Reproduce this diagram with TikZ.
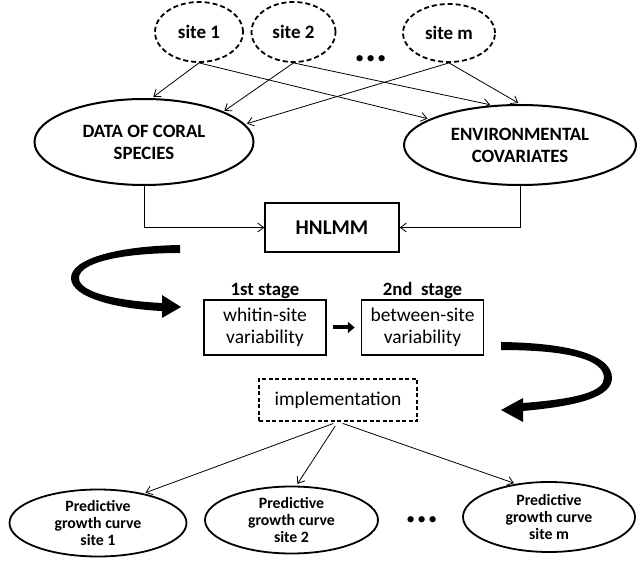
\documentclass[tikz,border=0pt]{standalone}
\usepackage{fontspec}
\setmainfont{Carlito}
\usetikzlibrary{arrows.meta,shapes.geometric}
\begin{document}
\begin{tikzpicture}[x=1pt,y=-1pt,
  sitenode/.style={ellipse,draw,line width=1.8pt,dash pattern=on 5pt off 3pt,inner sep=0pt,
     font=\fontsize{19}{22}\selectfont\bfseries},
  bigell/.style={ellipse,draw,line width=2pt,inner sep=0pt,align=center,
     font=\fontsize{18.8}{22}\selectfont\bfseries},
  predell/.style={ellipse,draw,line width=1.8pt,inner sep=0pt,align=center,
     minimum width=174pt,minimum height=67pt,
     font=\fontsize{15.8}{17}\selectfont\bfseries},
  boxnode/.style={rectangle,draw,line width=1.5pt,inner sep=0pt,align=center},
  stagebox/.style={boxnode,minimum width=122pt,minimum height=55pt,
     font=\fontsize{19.5}{21.5}\selectfont},
  stagelabel/.style={anchor=base,inner sep=0pt,font=\fontsize{18.8}{22}\selectfont\bfseries},
  conn/.style={line width=0.8pt,-{Straight Barb[length=6pt,width=9pt]}},
  dotsnode/.style={anchor=base,inner sep=0pt,font=\fontsize{42}{42}\selectfont\bfseries},
  bigarrow/.style={fill=black,draw=none}
]
\useasboundingbox (0,0) rectangle (638,564);

% sites
\node[sitenode,minimum width=88pt,minimum height=60pt] (s1) at (199,32) {site 1};
\node[sitenode,minimum width=84pt,minimum height=60pt] (s2) at (293.5,32) {site 2};
\node[sitenode,minimum width=92pt,minimum height=58pt] (sm) at (449,33) {site m};
\node[dotsnode] (topdots) at (371,62) {...};

% data ellipses
\node[bigell,minimum width=219pt,minimum height=86pt] (data) at (144,142) {DATA OF CORAL\\SPECIES};
\node[bigell,minimum width=232pt,minimum height=80pt] (env) at (520,145) {ENVIRONMENTAL\\COVARIATES};

\draw[conn,shorten >=2pt] (s1.south) -- (data.80);
\draw[conn,shorten >=2pt] (s1.south) -- (env.164.6);
\draw[conn,shorten >=1pt] (s2.south) -- (data.21.4);
\draw[conn,shorten >=2pt] (s2.south) -- (env.125);
\draw[conn,shorten >=2pt] (sm.south) -- (data.10.4);
\draw[conn,shorten >=2pt] (sm.south) -- (env.90);

% HNLMM
\node[boxnode,minimum width=134pt,minimum height=49pt,font=\fontsize{21}{22}\selectfont\bfseries] (hn) at (332,227.5) {HNLMM};
\draw[conn] (data.south) |- (hn.west);
\draw[conn] (env.south) |- (hn.east);

% curved arrow 1
\fill[bigarrow] (180,245) .. controls (120,246) and (71,258) .. (71,278)
  .. controls (71,298) and (118,309) .. (162,311) -- (162,318) -- (181,307) -- (162,295) -- (162,303)
  .. controls (120,301) and (79,293) .. (79,278)
  .. controls (79,263) and (120,253) .. (180,253) -- cycle;

% stages
\node[stagebox] (b1) at (265,327.5) {whitin-site\\variability};
\node[stagebox] (b2) at (422.5,327.5) {between-site\\variability};
\node[stagelabel] (l1) at ([yshift=3.5pt]b1.north) {1st stage};
\node[stagelabel] (l2) at ([yshift=3.5pt]b2.north) {2nd\ \ stage};
\draw[line width=4pt,-{Triangle[length=7pt,width=11pt]},shorten <=6pt,shorten >=6pt] (b1.east) -- (b2.west);

% curved arrow 2
\fill[bigarrow] (501,342) .. controls (570,343) and (612,355) .. (612,378)
  .. controls (612,397) and (578,406) .. (523,411) -- (523,422) -- (501,410) -- (523,398) -- (523,403)
  .. controls (575,399) and (604,392) .. (604,378)
  .. controls (604,360) and (570,350) .. (501,350) -- cycle;

% implementation
\node[rectangle,draw,line width=1.5pt,dash pattern=on 4pt off 2.5pt,minimum width=158pt,minimum height=42pt,
  inner sep=0pt,font=\fontsize{19.5}{21.5}\selectfont] (impl) at (338,400) {implementation};

% predictive ellipses
\node[predell,minimum width=177pt] (p1) at (98,523) {Predictive\\growth curve\\site 1};
\node[predell,minimum width=173pt] (p2) at (291.5,520) {Predictive\\growth curve\\site 2};
\node[predell,minimum width=172pt,minimum height=70pt] (pm) at (549,517) {Predictive\\growth curve\\site m};
\node[dotsnode] (botdots) at (422,522) {...};

\draw[conn,shorten <=5pt,shorten >=2pt] (impl.south) -- (p1.33.7);
\draw[conn,shorten <=5pt,shorten >=2pt] (impl.south) -- (p2.82);
\draw[conn,shorten <=5pt,shorten >=2pt] (impl.south) -- (pm.135);
\end{tikzpicture}
\end{document}
